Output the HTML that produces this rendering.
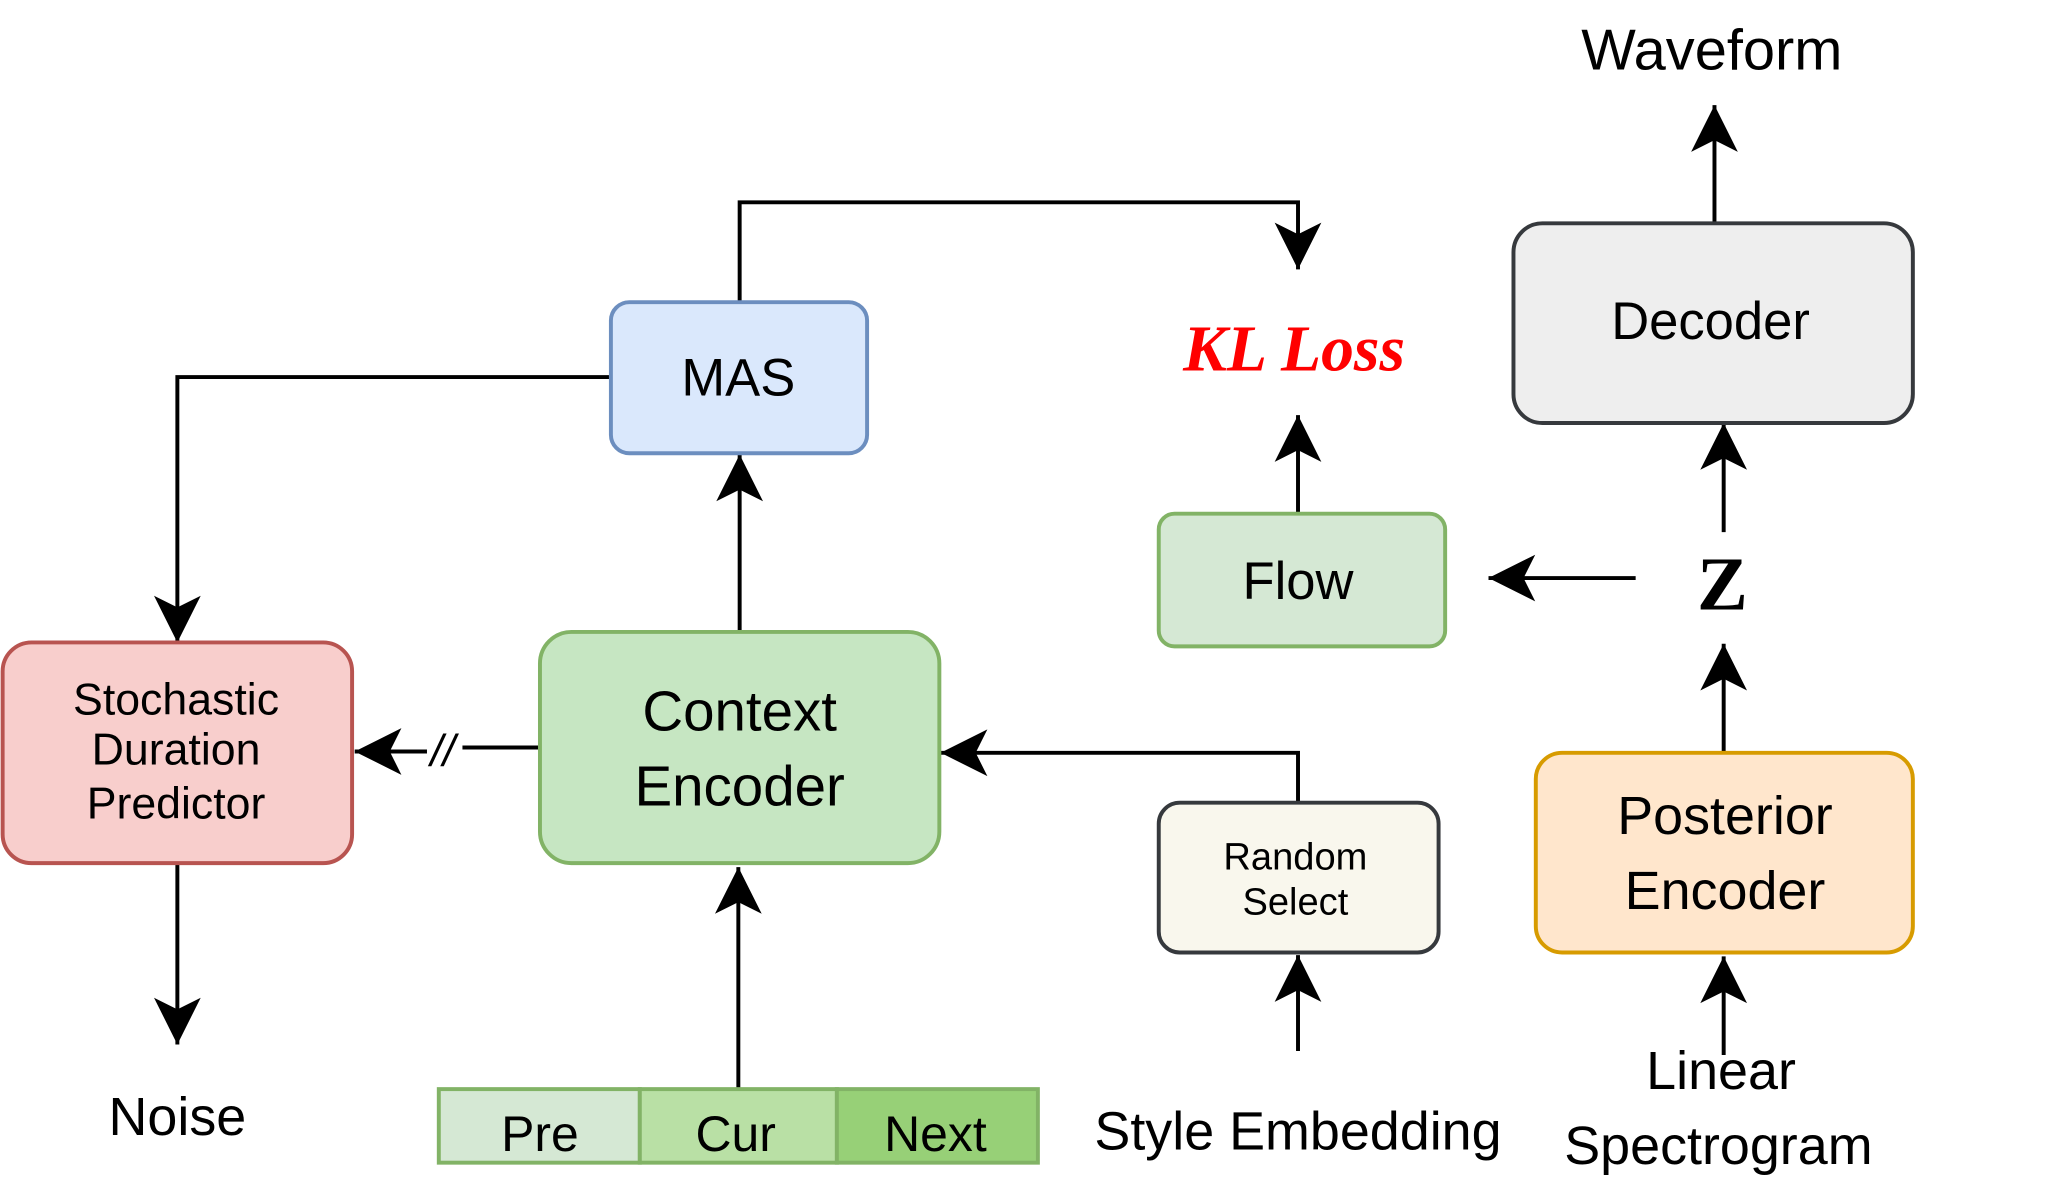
<!DOCTYPE html>
<html><head><meta charset="utf-8"><style>
html,body{margin:0;padding:0;background:#fff;}
svg{display:block;}
text{font-family:"Liberation Sans",sans-serif;fill:#000;text-anchor:middle;}
</style></head><body>
<svg width="2060" height="1195" viewBox="0 0 1568 909.6" preserveAspectRatio="none" xmlns="http://www.w3.org/2000/svg">
<defs>
<marker id="a" markerUnits="userSpaceOnUse" markerWidth="40" markerHeight="40" viewBox="-32 -18 34 36" refX="0" refY="0" orient="auto">
<path d="M0,0 L-32,-16 L-24,0 L-32,16 Z" fill="#000"/>
</marker>
</defs>
<g fill="none" stroke="#000" stroke-width="3">
<polyline points="563,230 563,154 988,154 988,205" marker-end="url(#a)"/>
<polyline points="465,287 135,287 135,489" marker-end="url(#a)"/>
<line x1="563" y1="481" x2="563" y2="346" marker-end="url(#a)"/>
<line x1="988" y1="391" x2="988" y2="316" marker-end="url(#a)"/>
<line x1="1245" y1="440" x2="1133" y2="440" marker-end="url(#a)"/>
<line x1="1305" y1="170" x2="1305" y2="80" marker-end="url(#a)"/>
<line x1="1312" y1="405" x2="1312" y2="322" marker-end="url(#a)"/>
<line x1="1312" y1="573" x2="1312" y2="490" marker-end="url(#a)"/>
<line x1="1312" y1="803" x2="1312" y2="728" marker-end="url(#a)"/>
<line x1="988" y1="800" x2="988" y2="727" marker-end="url(#a)"/>
<polyline points="988,611 988,573 716,573" marker-end="url(#a)"/>
<line x1="562" y1="829" x2="562" y2="660" marker-end="url(#a)"/>
<line x1="411" y1="569" x2="352" y2="569"/>
<line x1="325" y1="572" x2="270" y2="572" marker-end="url(#a)"/>
<line x1="135" y1="657" x2="135" y2="795" marker-end="url(#a)"/>
</g>
<text x="337" y="583" font-size="34" font-style="italic">//</text>
<rect x="465" y="230" width="195" height="115" rx="14" fill="#dae8fc" stroke="#6c8ebf" stroke-width="3"/>
<text x="562" y="301" font-size="40">MAS</text>
<rect x="882" y="391" width="218" height="101" rx="12" fill="#d5e8d4" stroke="#82b366" stroke-width="3"/>
<text x="988" y="456" font-size="40">Flow</text>
<rect x="1152" y="170" width="304" height="152" rx="22" fill="#eeeeee" stroke="#36393d" stroke-width="3"/>
<text x="1302" y="258" font-size="40">Decoder</text>
<rect x="1169" y="573" width="287" height="152" rx="20" fill="#ffe6cc" stroke="#d79b00" stroke-width="3"/>
<text x="1313" y="635" font-size="41">Posterior</text>
<text x="1313" y="692" font-size="41">Encoder</text>
<rect x="882" y="611" width="213" height="114" rx="16" fill="#f9f7ed" stroke="#36393d" stroke-width="3"/>
<text x="986" y="662" font-size="29">Random</text>
<text x="986" y="696" font-size="29">Select</text>
<rect x="411" y="481" width="304" height="176" rx="24" fill="#c6e6c2" stroke="#82b366" stroke-width="3"/>
<text x="563" y="556" font-size="43">Context</text>
<text x="563" y="613" font-size="43">Encoder</text>
<rect x="2" y="489" width="266" height="168" rx="22" fill="#f8cecc" stroke="#b85450" stroke-width="3"/>
<text x="134" y="544" font-size="34">Stochastic</text>
<text x="134" y="582" font-size="34">Duration</text>
<text x="134" y="623" font-size="34">Predictor</text>
<rect x="334" y="829" width="153" height="56" fill="#d5e8d4" stroke="#82b366" stroke-width="3"/>
<rect x="487" y="829" width="150" height="56" fill="#b9e0a5" stroke="#82b366" stroke-width="3"/>
<rect x="637" y="829" width="153" height="56" fill="#97d077" stroke="#82b366" stroke-width="3"/>
<text x="411" y="876" font-size="38">Pre</text>
<text x="560" y="876" font-size="38">Cur</text>
<text x="712" y="876" font-size="38">Next</text>
<text x="985" y="282" font-size="50" font-weight="bold" font-style="italic" style="font-family:'Liberation Serif',serif;fill:#ff0000">KL Loss</text>
<text x="1311" y="464" font-size="58" font-weight="bold" style="font-family:'Liberation Serif',serif">Z</text>
<text x="1303" y="53" font-size="44">Waveform</text>
<text x="1310" y="829" font-size="41">Linear</text>
<text x="1308" y="886" font-size="41">Spectrogram</text>
<text x="988" y="875" font-size="41">Style Embedding</text>
<text x="135" y="864" font-size="41">Noise</text>
</svg>
</body></html>
